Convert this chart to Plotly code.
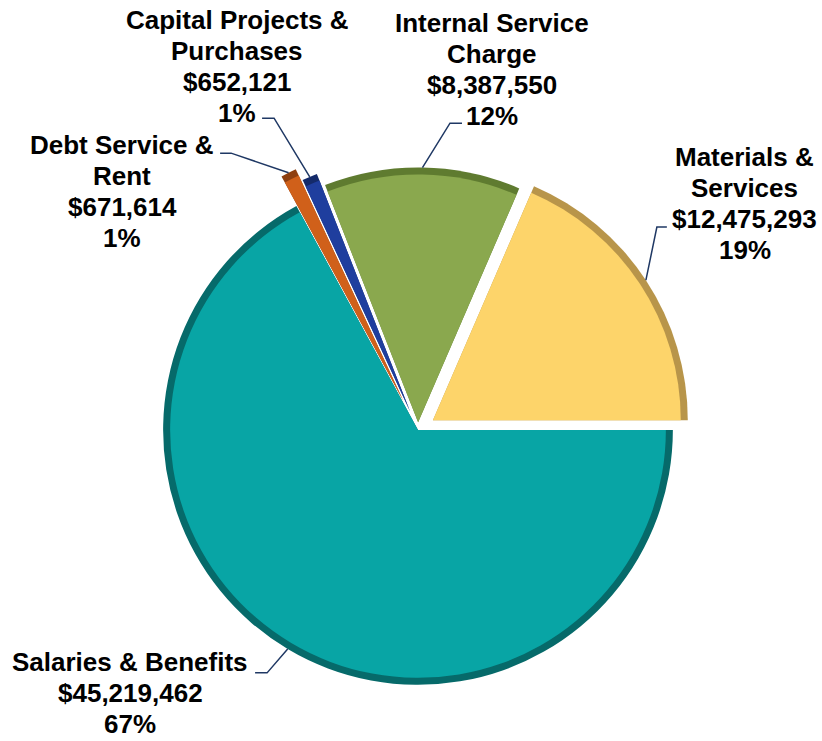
import numpy as np
import plotly.graph_objects as go

# ---------------- data ----------------
categories = ["Salaries & Benefits", "Materials & Services", "Internal Service Charge",
              "Capital Projects & Purchases", "Debt Service & Rent"]
amounts = [45219462, 12475293, 8387550, 652121, 671614]
name_lines = [["Salaries & Benefits"], ["Materials &", "Services"], ["Internal Service", "Charge"],
              ["Capital Projects &", "Purchases"], ["Debt Service &", "Rent"]]

# ---------------- styling ----------------
fill_colors = ["#08A5A5", "#FDD46A", "#8AA84E", "#1F3E9E", "#D0601A"]
rim_colors = ["#066A6A", "#B8954A", "#5F7B30", "#142A6A", "#8E3F10"]
pulls = [0.0, 0.07, 0.03, 0.08, 0.13]

W, H = 822, 741
CX, CY, R = 418.0, 430.0, 255.0
RIM = 7.0
FONT = "Liberation Sans, Arial, sans-serif"
LINE_COLOR = "#1F3864"

maxp = max(pulls)
side = 2 * R * (1 + maxp)
ml = CX - side / 2
mt = CY - side / 2
mr = W - ml - side
mb = H - mt - side

R2 = R - RIM
pulls2 = [p * R / R2 for p in pulls]
side2 = 2 * R2 * (1 + max(pulls2))
d0 = (side - side2) / 2 / side


def to_paper(px, py):
    return (px - ml) / side, (mt + side - py) / side


fig = go.Figure()
fig.add_trace(go.Pie(labels=categories, values=amounts, sort=False, direction="counterclockwise",
                     rotation=90, pull=pulls, textinfo="none", hoverinfo="label+value+percent",
                     marker=dict(colors=rim_colors, line=dict(width=0)), showlegend=False,
                     domain=dict(x=[0, 1], y=[0, 1])))
fig.add_trace(go.Pie(labels=categories, values=amounts, sort=False, direction="counterclockwise",
                     rotation=90, pull=pulls2, textinfo="none", hoverinfo="skip",
                     marker=dict(colors=fill_colors, line=dict(width=0)), showlegend=False,
                     domain=dict(x=[d0, 1 - d0], y=[d0, 1 - d0])))

# geometry of slices (ccw from 3 o'clock, order 1..n-1 then 0) -> leader anchors
total = float(sum(amounts))
order = list(range(1, len(amounts))) + [0]
theta = 0.0
anchors = {}
for i in order:
    span = amounts[i] / total * 2 * np.pi
    mid = theta + span / 2
    ax = CX + pulls[i] * R * np.cos(mid) + R * np.cos(mid)
    ay = CY - pulls[i] * R * np.sin(mid) - R * np.sin(mid)
    anchors[i] = (ax, ay)
    theta += span

# label layout (pixel): center x, first line y, leader start, elbow
label_pos = {
    0: (130, 662, (255, 673), (267, 673)),
    1: (745, 157, (667, 227), (657, 227)),
    2: (492, 23, (462, 123), (450, 123)),
    3: (237, 20, (262, 118), (274, 118)),
    4: (122, 145, (220, 153), (231, 153)),
}
LINE_H = 31

annotations = []
shapes = []
for i in range(len(amounts)):
    cx, y0, p_start, p_elbow = label_pos[i]
    lines = name_lines[i] + [f"${amounts[i]:,}", f"{round(100 * amounts[i] / total)}%"]
    for k, t in enumerate(lines):
        xp, yp = to_paper(cx, y0 + k * LINE_H)
        annotations.append(dict(text=t, x=xp, y=yp, xref="paper", yref="paper",
                                xanchor="center", yanchor="middle", showarrow=False,
                                font=dict(family=FONT, size=26, color="black", weight="bold")))
    a = to_paper(*p_start)
    b = to_paper(*p_elbow)
    c = to_paper(*anchors[i])
    shapes.append(dict(type="path", xref="paper", yref="paper",
                       path=f"M {a[0]} {a[1]} L {b[0]} {b[1]} L {c[0]} {c[1]}",
                       line=dict(color=LINE_COLOR, width=1.5)))

fig.update_layout(width=W, height=H, margin=dict(l=ml, r=mr, t=mt, b=mb, autoexpand=False),
                  paper_bgcolor="white", plot_bgcolor="white",
                  annotations=annotations, shapes=shapes)

fig.write_html("out.html", config={"displayModeBar": False},
               post_script="document.body.style.margin='0';document.body.style.overflow='hidden';")
